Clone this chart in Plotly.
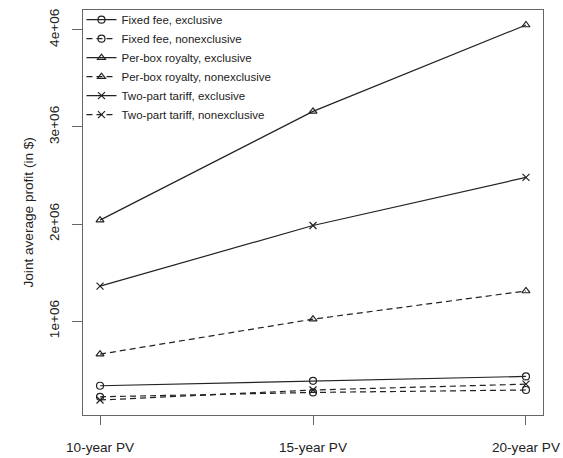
import plotly.graph_objects as go

categories = ["10-year PV", "15-year PV", "20-year PV"]
x_pos = [1, 2, 3]

fixed_excl = [334000, 385000, 430000]
fixed_nonexcl = [220000, 265000, 290000]
perbox_excl = [2040000, 3160000, 4050000]
perbox_nonexcl = [659000, 1020000, 1310000]
twopart_excl = [1360000, 1985000, 2480000]
twopart_nonexcl = [187000, 290000, 350000]

series = [
    ("Fixed fee, exclusive", fixed_excl, "circle-open", "solid"),
    ("Fixed fee, nonexclusive", fixed_nonexcl, "circle-open", "6px,4px"),
    ("Per-box royalty, exclusive", perbox_excl, "triangle-up-open", "solid"),
    ("Per-box royalty, nonexclusive", perbox_nonexcl, "triangle-up-open", "6px,4px"),
    ("Two-part tariff, exclusive", twopart_excl, "x-thin-open", "solid"),
    ("Two-part tariff, nonexclusive", twopart_nonexcl, "x-thin-open", "6px,4px"),
]

y_tickvals = [1e6, 2e6, 3e6, 4e6]
y_ticktext = ["1e+06", "2e+06", "3e+06", "4e+06"]

fig = go.Figure()
for name, vals, sym, dash in series:
    fig.add_trace(go.Scatter(
        x=x_pos, y=vals, name=name, mode="lines+markers",
        line=dict(color="#222222", width=1.2, dash=dash),
        marker=dict(symbol=sym, size=7, color="#222222",
                    line=dict(color="#222222", width=1.2)),
    ))

font = dict(family="Liberation Sans, Arial, sans-serif", size=13.6, color="#222222")

fig.update_layout(
    width=563, height=458,
    margin=dict(l=83, r=20, t=10, b=43, autoexpand=False),
    paper_bgcolor="white", plot_bgcolor="white",
    font=font,
    showlegend=True,
    legend=dict(x=-0.0033, y=1.012, xanchor="left", yanchor="top",
                bgcolor="rgba(0,0,0,0)", borderwidth=0,
                font=dict(family="Liberation Sans, Arial, sans-serif", size=11.5, color="#222222"),
                tracegroupgap=0, itemwidth=30),
)
fig.update_xaxes(
    range=[0.92, 3.08], tickvals=x_pos, ticktext=categories,
    showgrid=False, zeroline=False, automargin=False,
    ticklabeloverflow="allow", ticklabelstandoff=11,
    showline=True, mirror=True, linecolor="#666666", linewidth=1,
    ticks="outside", ticklen=9, tickcolor="#666666", tickwidth=1,
    tickfont=font,
)
fig.update_yaxes(
    range=[32500, 4204500], tickvals=y_tickvals, ticktext=y_ticktext,
    tickangle=-90, ticklabelstandoff=8, automargin=False,
    ticklabeloverflow="allow",
    showgrid=False, zeroline=False,
    showline=True, mirror=True, linecolor="#666666", linewidth=1,
    ticks="outside", ticklen=10, tickcolor="#666666", tickwidth=1,
    tickfont=font,
)
fig.add_annotation(
    text="Joint average profit (in $)", textangle=-90,
    xref="paper", yref="paper", x=0, y=0.5, xanchor="center", yanchor="middle",
    xshift=-55, showarrow=False, font=font,
)
fig.write_html(
    "out.html",
    config={"displayModeBar": False},
    post_script="document.body.style.margin='0px';document.body.style.overflow='hidden';",
)
